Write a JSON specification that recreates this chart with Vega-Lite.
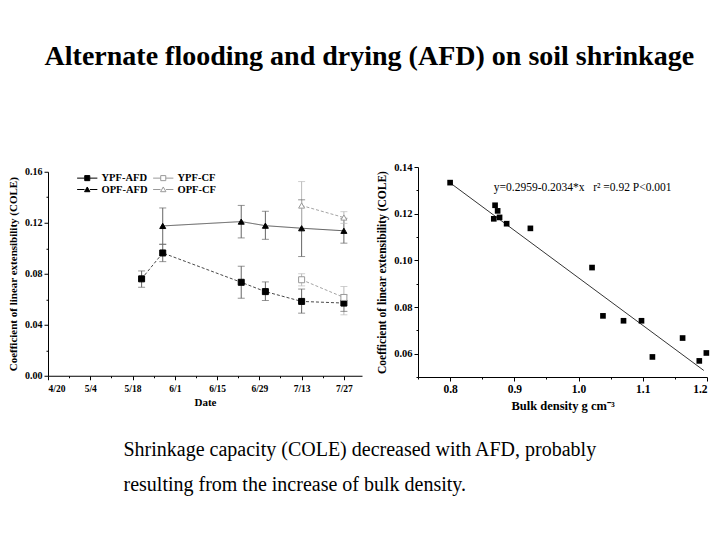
{
  "$schema": "https://vega.github.io/schema/vega-lite/v6.json",
  "padding": {"left": 7, "top": 43, "right": 5, "bottom": 5},
  "background": "white",
  "title": {
    "text": "Alternate flooding and drying (AFD) on soil shrinkage",
    "font": "Liberation Serif", "fontSize": 28, "fontWeight": "bold", "color": "black",
    "anchor": "middle", "offset": 91, "dx": 11
  },
  "datasets": {
    "ts": [
      {"date": "2013-05-21", "series": "YPF-AFD", "cole": 0.0760, "lo": 0.0694, "hi": 0.0822},
      {"date": "2013-05-28", "series": "YPF-AFD", "cole": 0.0963, "lo": 0.0895, "hi": 0.1031},
      {"date": "2013-06-23", "series": "YPF-AFD", "cole": 0.0733, "lo": 0.0608, "hi": 0.0859},
      {"date": "2013-07-01", "series": "YPF-AFD", "cole": 0.0660, "lo": 0.0590, "hi": 0.0736},
      {"date": "2013-07-13", "series": "YPF-AFD", "cole": 0.0583, "lo": 0.0491, "hi": 0.0680},
      {"date": "2013-07-27", "series": "YPF-AFD", "cole": 0.0570, "lo": 0.0505, "hi": 0.0635},
      {"date": "2013-05-28", "series": "OPF-AFD", "cole": 0.1175, "lo": 0.1031, "hi": 0.1316},
      {"date": "2013-06-23", "series": "OPF-AFD", "cole": 0.1209, "lo": 0.1081, "hi": 0.1336},
      {"date": "2013-07-01", "series": "OPF-AFD", "cole": 0.1177, "lo": 0.1070, "hi": 0.1290},
      {"date": "2013-07-13", "series": "OPF-AFD", "cole": 0.1157, "lo": 0.0935, "hi": 0.1380},
      {"date": "2013-07-27", "series": "OPF-AFD", "cole": 0.1137, "lo": 0.1040, "hi": 0.1235},
      {"date": "2013-07-13", "series": "OPF-CF", "cole": 0.1335, "lo": 0.1145, "hi": 0.1523},
      {"date": "2013-07-27", "series": "OPF-CF", "cole": 0.1241, "lo": 0.1195, "hi": 0.1287},
      {"date": "2013-07-13", "series": "YPF-CF", "cole": 0.0753, "lo": 0.0705, "hi": 0.0800},
      {"date": "2013-07-27", "series": "YPF-CF", "cole": 0.0614, "lo": 0.0478, "hi": 0.0700}
    ],
    "bd": [
      {"bd": 0.800, "cole": 0.1333},
      {"bd": 0.870, "cole": 0.1236},
      {"bd": 0.868, "cole": 0.1178},
      {"bd": 0.874, "cole": 0.1212},
      {"bd": 0.877, "cole": 0.1184},
      {"bd": 0.888, "cole": 0.1157},
      {"bd": 0.925, "cole": 0.1137},
      {"bd": 1.021, "cole": 0.0969},
      {"bd": 1.038, "cole": 0.0762},
      {"bd": 1.070, "cole": 0.0741},
      {"bd": 1.098, "cole": 0.0741},
      {"bd": 1.115, "cole": 0.0586},
      {"bd": 1.162, "cole": 0.0667},
      {"bd": 1.188, "cole": 0.0569},
      {"bd": 1.199, "cole": 0.0603}
    ],
    "fit": [
      {"bd": 0.800, "cole": 0.1332},
      {"bd": 1.195, "cole": 0.0528}
    ],
    "eq": [
      {"bd": 0.868, "cole": 0.1309, "label": "y=0.2959-0.2034*x\u00a0\u00a0\u00a0r² =0.92\u00a0P<0.001"}
    ]
  },
  "vconcat": [
    {
      "title": {
        "text": ["Shrinkage capacity (COLE) decreased with AFD, probably", "resulting from the increase of bulk density."],
        "orient": "bottom", "anchor": "start", "font": "Liberation Serif", "fontSize": 20,
        "fontWeight": "normal", "color": "black", "lineHeight": 35, "offset": 28, "dx": 116
      },
      "hconcat": [
        {
          "width": 314,
          "height": 204,
          "data": {"name": "ts"},
          "layer": [
            {
              "mark": {"type": "rule", "strokeWidth": 1},
              "encoding": {
                "x": {"field": "date", "type": "temporal"},
                "y": {"field": "lo", "type": "quantitative"},
                "y2": {"field": "hi"},
                "color": {"field": "series", "type": "nominal",
                  "scale": {"domain": ["YPF-AFD", "YPF-CF", "OPF-AFD", "OPF-CF"], "range": ["#666666", "#bbbbbb", "#666666", "#bbbbbb"]},
                  "legend": null}
              }
            },
            {
              "mark": {"type": "tick", "orient": "horizontal", "size": 7, "thickness": 1},
              "encoding": {
                "x": {"field": "date", "type": "temporal"},
                "y": {"field": "lo", "type": "quantitative"},
                "color": {"field": "series", "type": "nominal", "legend": null}
              }
            },
            {
              "mark": {"type": "tick", "orient": "horizontal", "size": 7, "thickness": 1},
              "encoding": {
                "x": {"field": "date", "type": "temporal"},
                "y": {"field": "hi", "type": "quantitative"},
                "color": {"field": "series", "type": "nominal", "legend": null}
              }
            },
            {
              "mark": {"type": "line", "strokeWidth": 0.9},
              "encoding": {
                "x": {"field": "date", "type": "temporal"},
                "y": {"field": "cole", "type": "quantitative"},
                "detail": {"field": "series"},
                "stroke": {"field": "series", "type": "nominal",
                  "scale": {"domain": ["YPF-AFD", "YPF-CF", "OPF-AFD", "OPF-CF"], "range": ["#333333", "#999999", "#444444", "#999999"]},
                  "legend": null},
                "strokeDash": {"field": "series", "type": "nominal",
                  "scale": {"domain": ["YPF-AFD", "YPF-CF", "OPF-AFD", "OPF-CF"], "range": [[3, 2], [3, 2], [1, 0], [3, 2]]},
                  "legend": null}
              }
            },
            {
              "mark": {"type": "point", "filled": true, "size": 36, "strokeWidth": 1, "opacity": 1},
              "encoding": {
                "x": {"field": "date", "type": "temporal"},
                "y": {"field": "cole", "type": "quantitative"},
                "shape": {"field": "series", "type": "nominal",
                  "scale": {"domain": ["YPF-AFD", "YPF-CF", "OPF-AFD", "OPF-CF"], "range": ["square", "square", "triangle-up", "triangle-up"]},
                  "legend": null},
                "fill": {"field": "series", "type": "nominal",
                  "scale": {"domain": ["YPF-AFD", "YPF-CF", "OPF-AFD", "OPF-CF"], "range": ["#000000", "#ffffff", "#000000", "#ffffff"]},
                  "legend": null},
                "stroke": {"field": "series", "type": "nominal",
                  "scale": {"domain": ["YPF-AFD", "YPF-CF", "OPF-AFD", "OPF-CF"], "range": ["#000000", "#999999", "#000000", "#999999"]},
                  "legend": null}
              }
            },
            {
              "mark": {"type": "point", "filled": true, "opacity": 0, "strokeWidth": 1},
              "encoding": {
                "x": {"field": "date", "type": "temporal"},
                "y": {"field": "cole", "type": "quantitative"},
                "shape": {"field": "series", "type": "nominal",
                  "scale": {"domain": ["YPF-AFD", "OPF-AFD", "YPF-CF", "OPF-CF"],
                    "range": ["M-3.2,0H-0.8M0.8,0H3.2M-0.8,-0.8H0.8V0.8H-0.8Z", "M-3.2,0H-0.85M0.85,0H3.2M-0.85,0.7L0,-0.8L0.85,0.7Z", "M-3.2,0H-0.8M0.8,0H3.2M-0.8,-0.8H0.8V0.8H-0.8Z", "M-3.2,0H-0.85M0.85,0H3.2M-0.85,0.7L0,-0.8L0.85,0.7Z"]},
                  "legend": {"title": null, "orient": "none", "legendX": 34, "legendY": 1, "columns": 2, "columnPadding": 3, "rowPadding": 0.5, "symbolSize": 40, "symbolStrokeWidth": 1, "symbolOpacity": 1, "labelOffset": 9, "labelFont": "Liberation Serif", "labelFontWeight": "bold", "labelFontSize": 10.5, "labelColor": "black"}},
                "fill": {"field": "series", "type": "nominal",
                  "scale": {"domain": ["YPF-AFD", "OPF-AFD", "YPF-CF", "OPF-CF"], "range": ["#000000", "#000000", "#ffffff", "#ffffff"]},
                  "legend": {"title": null, "orient": "none", "legendX": 34, "legendY": 1, "columns": 2, "columnPadding": 3, "rowPadding": 0.5, "symbolSize": 40, "symbolStrokeWidth": 1, "symbolOpacity": 1, "labelOffset": 9, "labelFont": "Liberation Serif", "labelFontWeight": "bold", "labelFontSize": 10.5, "labelColor": "black"}},
                "stroke": {"field": "series", "type": "nominal",
                  "scale": {"domain": ["YPF-AFD", "OPF-AFD", "YPF-CF", "OPF-CF"], "range": ["#000000", "#000000", "#999999", "#999999"]},
                  "legend": {"title": null, "orient": "none", "legendX": 34, "legendY": 1, "columns": 2, "columnPadding": 3, "rowPadding": 0.5, "symbolSize": 40, "symbolStrokeWidth": 1, "symbolOpacity": 1, "labelOffset": 9, "labelFont": "Liberation Serif", "labelFontWeight": "bold", "labelFontSize": 10.5, "labelColor": "black"}}
              }
            }
          ],
          "resolve": {"scale": {"shape": "independent", "fill": "independent", "stroke": "independent"}},
          "encoding": {
            "x": {"field": "date", "type": "temporal", "title": "Date",
              "scale": {"type": "utc", "domain": [{"year": 2013, "month": 4, "date": 20, "utc": true}, {"year": 2013, "month": 8, "date": 2, "utc": true}], "nice": false},
              "axis": {
                "values": [
                  {"year": 2013, "month": 4, "date": 20, "utc": true}, {"year": 2013, "month": 4, "date": 27, "utc": true},
                  {"year": 2013, "month": 5, "date": 4, "utc": true}, {"year": 2013, "month": 5, "date": 11, "utc": true},
                  {"year": 2013, "month": 5, "date": 18, "utc": true}, {"year": 2013, "month": 5, "date": 25, "utc": true},
                  {"year": 2013, "month": 6, "date": 1, "utc": true}, {"year": 2013, "month": 6, "date": 8, "utc": true},
                  {"year": 2013, "month": 6, "date": 15, "utc": true}, {"year": 2013, "month": 6, "date": 22, "utc": true},
                  {"year": 2013, "month": 6, "date": 29, "utc": true}, {"year": 2013, "month": 7, "date": 6, "utc": true},
                  {"year": 2013, "month": 7, "date": 13, "utc": true}, {"year": 2013, "month": 7, "date": 20, "utc": true},
                  {"year": 2013, "month": 7, "date": 27, "utc": true}
                ],
                "labelExpr": "round((datum.value - 1366416000000) / 86400000) % 14 == 0 ? utcFormat(datum.value, '%-m/%-d') : ''",
                "tickSize": {"condition": {"test": "round((datum.value - 1366416000000) / 86400000) % 14 == 0", "value": 4}, "value": 2},
                "labelOverlap": false, "labelFontSize": 9.5, "titleFontSize": 11, "labelPadding": 4, "titlePadding": 3
              }
            },
            "y": {"field": "cole", "type": "quantitative", "title": "Coefficient of linear extensibility (COLE)",
              "scale": {"domain": [0, 0.16], "nice": false, "zero": false},
              "axis": {
                "values": [0, 0.02, 0.04, 0.06, 0.08, 0.1, 0.12, 0.14, 0.16],
                "labelExpr": "round(datum.value * 100) % 4 == 0 ? format(datum.value, '.2f') : ''",
                "tickSize": {"condition": {"test": "round(datum.value * 100) % 4 == 0", "value": 4}, "value": 2},
                "labelOverlap": false, "labelFontSize": 10, "titleFontSize": 11, "labelPadding": 2, "titlePadding": 6
              }
            }
          }
        },
        {
          "width": 289,
          "height": 210,
          "layer": [
            {
              "data": {"name": "fit"},
              "mark": {"type": "line", "color": "black", "strokeWidth": 0.8},
              "encoding": {
                "x": {"field": "bd", "type": "quantitative"},
                "y": {"field": "cole", "type": "quantitative"}
              }
            },
            {
              "data": {"name": "bd"},
              "mark": {"type": "point", "shape": "square", "filled": true, "color": "black", "size": 32, "opacity": 1},
              "encoding": {
                "x": {"field": "bd", "type": "quantitative"},
                "y": {"field": "cole", "type": "quantitative"}
              }
            },
            {
              "data": {"name": "eq"},
              "mark": {"type": "text", "align": "left", "baseline": "middle", "font": "Liberation Serif", "fontSize": 11.5, "color": "black"},
              "encoding": {
                "x": {"field": "bd", "type": "quantitative"},
                "y": {"field": "cole", "type": "quantitative"},
                "text": {"field": "label"}
              }
            }
          ],
          "encoding": {
            "x": {"field": "bd", "type": "quantitative", "title": "Bulk density g cm⁻³",
              "scale": {"domain": [0.75, 1.2], "nice": false, "zero": false},
              "axis": {
                "values": [0.75, 0.8, 0.85, 0.9, 0.95, 1.0, 1.05, 1.1, 1.15, 1.2],
                "labelExpr": "round(datum.value * 100) % 10 == 0 ? format(datum.value, '.1f') : ''",
                "tickSize": {"condition": {"test": "round(datum.value * 100) % 10 == 0", "value": 4}, "value": 2},
                "labelOverlap": false, "labelFontSize": 11.5, "titleFontSize": 12.5, "labelPadding": 2, "titlePadding": 5
              }
            },
            "y": {"field": "cole", "type": "quantitative", "title": "Coefficient of linear extensibility (COLE)",
              "scale": {"domain": [0.05, 0.14], "nice": false, "zero": false},
              "axis": {
                "values": [0.05, 0.06, 0.07, 0.08, 0.09, 0.1, 0.11, 0.12, 0.13, 0.14],
                "labelExpr": "round(datum.value * 100) % 2 == 0 ? format(datum.value, '.2f') : ''",
                "tickSize": {"condition": {"test": "round(datum.value * 100) % 2 == 0", "value": 4}, "value": 2},
                "labelOverlap": false, "labelFontSize": 10.5, "titleFontSize": 11.5, "labelPadding": 2, "titlePadding": 6
              }
            }
          }
        }
      ],
      "spacing": 14,
      "center": true
    }
  ],
  "config": {
    "view": {"stroke": null},
    "title": {"font": "Liberation Serif", "color": "black"},
    "axis": {
      "grid": false, "domainColor": "black", "tickColor": "black", "labelColor": "black", "titleColor": "black",
      "labelFont": "Liberation Serif", "labelFontWeight": "bold", "titleFont": "Liberation Serif", "titleFontWeight": "bold"
    }
  }
}
